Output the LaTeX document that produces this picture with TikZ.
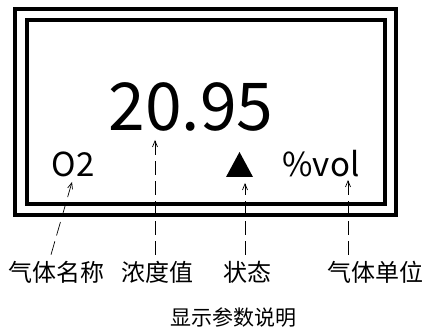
\documentclass[tikz,border=0pt]{standalone}
\usepackage{fontspec}
\setmainfont{Noto Sans CJK SC}
\usetikzlibrary{arrows.meta}
\begin{document}
\begin{tikzpicture}[x=1pt,y=-1pt,
  frame/.style={draw=black,line width=3.2pt},
  pointer/.style={draw=black,line width=0.7pt,dash pattern=on 14pt off 6pt,-{Straight Barb[length=6pt,width=5pt]}},
  lbl/.style={font=\fontsize{24}{26}\selectfont,inner sep=0pt},
  disp/.style={inner sep=0pt,anchor=base}]
\useasboundingbox (0,0) rectangle (426,334);
\draw[frame] (15,9) rectangle (396,215);
\draw[frame] (27,20) rectangle (385,204);
\node[disp,font=\fontsize{66}{70}\selectfont] (val) at (191,131) {20.95};
\node[disp,font=\fontsize{33}{36}\selectfont] (gas) at (73,177) {O2};
\node[disp,font=\fontsize{33}{36}\selectfont] (unit) at (321,177) {\%vol};
\fill (226,177) -- (253,177) -- (239.5,152) -- cycle;
\coordinate (tri) at (245,183);
\node[lbl] (l1) at (57,272) {气体名称};
\node[lbl] (l2) at (157,272) {浓度值};
\node[lbl] (l3) at (247,272) {状态};
\node[lbl] (l4) at (375,272) {气体单位};
\node[font=\fontsize{21}{24}\selectfont,inner sep=0pt] (cap) at (233,318) {显示参数说明};
\coordinate (a1) at (72,182);
\coordinate (a2) at (155,140);
\coordinate (a4) at (348,180);
\draw[pointer] (l1.north -| 51,0) ++(0,-6) -- (a1);
\draw[pointer] (l2.north -| a2) ++(0,-6) -- (a2);
\draw[pointer] (l3.north -| tri) ++(0,-6) -- (tri);
\draw[pointer] (l4.north -| a4) ++(0,-6) -- (a4);
\end{tikzpicture}
\end{document}
